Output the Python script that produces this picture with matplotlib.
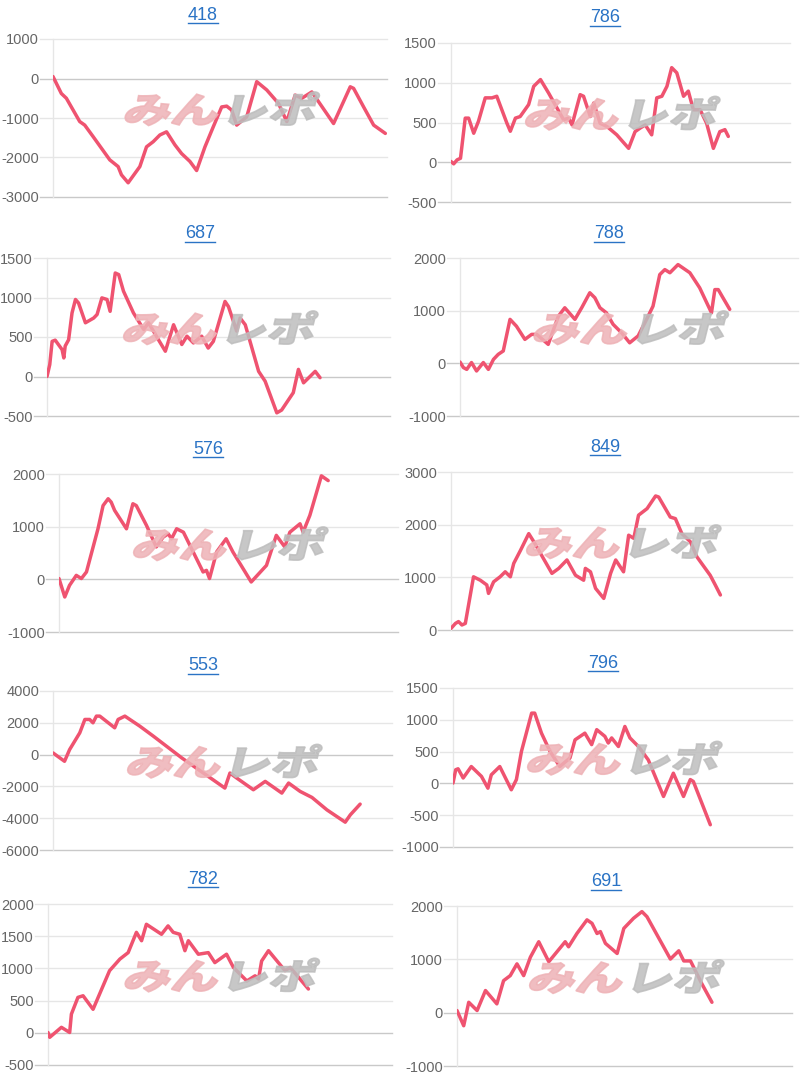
import matplotlib
matplotlib.use("Agg")
import matplotlib.pyplot as plt
from matplotlib.lines import Line2D
from matplotlib.patches import PathPatch
from matplotlib.textpath import TextPath
from matplotlib.font_manager import FontProperties
from matplotlib.transforms import Affine2D

plt.rcParams['font.family'] = ['Liberation Sans', 'DejaVu Sans']
plt.rcParams['axes.unicode_minus'] = False

# machine numbers (panel titles)
titles = ["418", "786", "687", "788", "576", "849", "553", "796", "782", "691"]

# x = position along the axis (0-100), y = balance
x418 = [0, 2.5, 4, 8, 9.5, 12, 17, 19.5, 20.5, 22.5, 26, 28, 30, 32, 34, 36.5, 38.5, 41, 43, 45.5,
        48, 50.5, 52, 53.5, 55, 58, 61, 64, 67.5, 70, 72.5, 74.5, 77.5, 84, 89, 90, 93, 96, 99.5]
y418 = [50, -380, -500, -1090, -1180, -1470, -2060, -2230, -2440, -2640, -2230, -1730, -1600, -1430,
        -1350, -1680, -1900, -2100, -2330, -1730, -1220, -720, -700, -800, -1180, -970, -80, -290,
        -630, -1090, -420, -500, -340, -1140, -210, -250, -720, -1180, -1390]

x786 = [0, 0.8, 1.8, 2.8, 4.2, 5.2, 6.7, 8.1, 10.1, 12.1, 13.5, 16.5, 17.5, 19, 20.4, 22.9, 24.4,
        26.4, 28.8, 33.2, 34.7, 35.7, 38.1, 39.1, 41.1, 42.1, 44, 46, 48.9, 52.4, 54.3, 55.8, 57.3,
        59.2, 60.7, 62.2, 63.7, 65.1, 66.6, 68.6, 70, 71.5, 73.5, 75.4, 77.4, 79.3, 80.8, 81.8]
y786 = [10, -20, 30, 50, 555, 555, 365, 515, 810, 810, 830, 490, 390, 555, 575, 725, 955, 1040, 870,
        535, 555, 470, 850, 830, 575, 745, 490, 450, 345, 175, 385, 430, 470, 345, 810, 830, 955,
        1190, 1125, 830, 895, 660, 660, 490, 175, 385, 410, 325]

x687 = [0, 0.8, 1.5, 2.4, 4.4, 4.9, 5.3, 6.3, 7.3, 8.3, 9.2, 11.2, 13.6, 14.6, 16, 17.5, 18.4, 19.9,
        20.9, 22.3, 25.2, 28.2, 29.6, 32.5, 34.5, 36.9, 39.3, 40.8, 42.7, 45.1, 47, 48.5, 51.9,
        52.9, 55.3, 56.3, 57.8, 61.7, 63.6, 67, 68.4, 71.8, 73.3, 74.8, 78.2, 79.6]
y687 = [0, 150, 445, 460, 340, 235, 385, 465, 805, 975, 930, 680, 740, 785, 995, 975, 825, 1310,
        1290, 1080, 805, 595, 680, 465, 320, 655, 405, 510, 425, 510, 360, 445, 950, 885, 575, 740,
        655, 65, -60, -460, -425, -205, 90, -80, 65, -15]

x788 = [0, 1, 2, 3.4, 4.9, 6.9, 8.4, 9.9, 11.3, 12.8, 14.8, 16.7, 19.2, 21.2, 22.7, 26.1, 29.1, 31,
        34, 36, 38.4, 39.9, 41.4, 43.3, 45.3, 47.8, 50.2, 52.7, 55.2, 57.1, 59.1, 60.6, 62.1, 64.5,
        68, 70.9, 74.4, 75.4, 76.4, 77.8, 79.8]
y788 = [25, -80, -115, 15, -145, 15, -115, 75, 170, 235, 835, 705, 455, 550, 550, 360, 895, 1055,
        835, 1055, 1340, 1245, 1055, 960, 740, 580, 390, 520, 835, 1085, 1685, 1780, 1720, 1875,
        1720, 1435, 960, 1400, 1400, 1245, 1025]

x576 = [0, 1.7, 3.1, 5.1, 6.6, 8.1, 11.5, 13, 14.5, 15.4, 16.4, 19.9, 21.8, 22.8, 25.8, 28.7, 30.7,
        32.2, 33.2, 34.7, 36.7, 42.5, 43.5, 44.4, 46.5, 49.3, 51.3, 56.7, 61.2, 64.1, 66.6, 68.1,
        71.1, 72, 74, 77.4, 79.4]
y576 = [15, -335, -115, 75, 15, 140, 960, 1400, 1530, 1465, 1310, 960, 1435, 1400, 1025, 615, 800,
        865, 770, 960, 895, 140, 170, 15, 520, 770, 520, -50, 265, 835, 615, 895, 1055, 895, 1215,
        1965, 1875]

x849 = [0, 1.3, 2.2, 3.2, 4.2, 6.6, 8.6, 10.5, 11, 12.5, 14.4, 15.9, 17.4, 18.4, 20.4, 22.8, 24.3,
        29.6, 31.6, 34, 36.5, 38.9, 39.4, 40.9, 42.4, 44.8, 46.8, 48.3, 50.6, 52.1, 53.6, 55, 57.5,
        60, 60.9, 64.3, 65.8, 67.7, 70.2, 72.1, 76, 77.5, 79]
y849 = [30, 125, 160, 95, 125, 1010, 945, 855, 695, 915, 1010, 1105, 1010, 1265, 1515, 1830, 1675,
        1075, 1170, 1330, 1040, 945, 1170, 1105, 790, 600, 1075, 1330, 1105, 1800, 1740, 2180,
        2305, 2545, 2525, 2145, 2115, 1830, 1675, 1390, 1040, 855, 665]

x553 = [0, 3.4, 4.9, 7.9, 9.4, 10.8, 11.8, 12.8, 13.8, 18.2, 19.2, 21.2, 25.6, 29.6, 38, 49.3, 50.7,
        52.2, 54.2, 59.1, 62.6, 67.5, 69.5, 72.9, 76.4, 80.8, 86.2, 87.7, 90.6]
y553 = [105, -420, 315, 1370, 2210, 2210, 2000, 2420, 2420, 1685, 2210, 2420, 1790, 1160, -210,
        -1895, -2105, -1160, -1475, -2210, -1685, -2420, -1790, -2315, -2695, -3475, -4250, -3790,
        -3115]

x796 = [0, 0.8, 1.5, 3, 5.4, 8.4, 10.3, 11.3, 13.8, 17.2, 18.7, 20.2, 23.2, 24.1, 26.1, 28.6, 31.5,
        34.5, 36, 38.9, 40.9, 42.4, 44.8, 45.8, 46.8, 48.8, 50.7, 52.2, 54.7, 57.6, 62.1, 65, 68,
        70, 70.9, 75.9]
y796 = [5, 215, 230, 85, 265, 110, -75, 135, 265, -100, 60, 505, 1105, 1105, 790, 505, 265, 400, 685,
        790, 610, 845, 740, 635, 715, 580, 895, 715, 580, 370, -205, 160, -205, 60, 30, -650]

x782 = [0, 0.5, 3.9, 6.3, 6.8, 8.7, 10.2, 13.1, 17.9, 20.9, 23.3, 25.7, 27.2, 28.6, 33, 34.9, 36.4,
        38.3, 39.8, 40.8, 43.7, 46.6, 48.5, 51.9, 53.9, 57.8, 60.2, 61.2, 62.1, 64.1, 68.9, 70.4,
        75.7]
y782 = [5, -70, 85, 5, 290, 550, 575, 365, 965, 1145, 1245, 1560, 1430, 1685, 1530, 1660, 1560, 1530,
        1275, 1430, 1220, 1245, 1090, 1220, 1015, 805, 885, 835, 1115, 1275, 965, 1015, 680]

x691 = [0, 2, 3.5, 6, 8.5, 11.9, 13.9, 15.9, 17.9, 19.9, 21.9, 24.4, 27.4, 32.3, 33.3, 35.8, 38.8,
        40.3, 41.8, 42.8, 44.3, 47.8, 49.8, 52.7, 55.2, 56.7, 63.7, 66.2, 67.7, 69.7, 73.1, 76.1]
y691 = [40, -245, 195, 40, 415, 165, 600, 695, 915, 695, 1040, 1330, 955, 1330, 1235, 1485, 1740,
        1675, 1485, 1520, 1300, 1110, 1580, 1770, 1895, 1800, 1005, 1160, 970, 970, 540, 195]

series_x = [x418, x786, x687, x788, x576, x849, x553, x796, x782, x691]
series_y = [y418, y786, y687, y788, y576, y849, y553, y796, y782, y691]

# y-axis tick values for each panel
ticks = [
    [-3000, -2000, -1000, 0, 1000],
    [-500, 0, 500, 1000, 1500],
    [-500, 0, 500, 1000, 1500],
    [-1000, 0, 1000, 2000],
    [-1000, 0, 1000, 2000],
    [0, 1000, 2000, 3000],
    [-6000, -4000, -2000, 0, 2000, 4000],
    [-1000, -500, 0, 500, 1000, 1500],
    [-500, 0, 500, 1000, 1500, 2000],
    [-1000, 0, 1000, 2000],
]

# panel boxes in pixels: left, right, top, bottom
boxes = [(53, 387, 39, 197), (451, 790, 43, 202),
         (47, 390, 258, 416), (460, 798, 258, 416),
         (59, 398, 474, 632), (451, 792, 472, 630),
         (53, 392, 691, 850), (453, 792, 688, 847),
         (48, 392, 904, 1065), (457, 792, 906, 1066)]
title_pos = [(203, 15), (605, 18), (200, 234), (609, 234), (208, 449),
             (605, 448), (203, 666), (603, 663), (203, 879), (606, 882)]

W, H = 800, 1080
fig = plt.figure(figsize=(W / 100, H / 100), dpi=100)
line_col = '#ef5370'
grid_col = '#e6e6e6'
zero_col = '#c9c9c9'

wm_font = FontProperties(family='Noto Sans CJK JP', weight='heavy')
wm_parts = [("みん", '#eeb2b6'), ("レポ", '#bdbdbd')]

axes = []
for i in range(10):
    l, r, t, b = boxes[i]
    ax = fig.add_axes([l / W, 1 - b / H, (r - l) / W, (b - t) / H])
    axes.append(ax)
    ax.set_xlim(0, 100)
    ax.set_ylim(ticks[i][0], ticks[i][-1])
    for s in ['top', 'right', 'bottom']:
        ax.spines[s].set_visible(False)
    ax.spines['left'].set_color(grid_col)
    ax.spines['left'].set_linewidth(1)
    ax.set_xticks([])
    ax.set_yticks(ticks[i])
    ax.tick_params(axis='y', length=0, pad=10, labelsize=10.5, labelcolor='#666666')
    for v in ticks[i]:
        c = zero_col if (v == 0 or v == ticks[i][0]) else grid_col
        ax.axhline(v, xmin=-13 / (r - l), xmax=1, color=c, lw=1, clip_on=False, zorder=0.5)
    ax.plot(series_x[i], series_y[i], color=line_col, lw=2.5, zorder=3,
            solid_joinstyle='round', solid_capstyle='round')

fig.canvas.draw()
renderer = fig.canvas.get_renderer()

# watermark and titles
for i, ax in enumerate(axes):
    cx, cy = ax.transAxes.transform((0.5, 0.57))
    size = 44
    px = cx - 98
    for txt, col in wm_parts:
        tp = TextPath((0, 0), txt, prop=wm_font, size=size)
        tr = Affine2D().scale(1.08, 0.8).skew_deg(14, 0).translate(px, cy - size * 0.36)
        patch = PathPatch(tr.transform_path(tp), facecolor=col, edgecolor=col, lw=1.2,
                          transform=None, zorder=1, alpha=0.85)
        fig.add_artist(patch)
        px += tp.get_extents().width * 1.08 + 6

    tx, ty = title_pos[i]
    t = fig.text(tx / W, 1 - ty / H, titles[i], ha='center', va='center',
                 fontsize=13, color='#2a73c5')
    bb = t.get_window_extent(renderer)
    uy = (bb.y0 + 1) / H
    fig.add_artist(Line2D([bb.x0 / W, bb.x1 / W], [uy, uy], color='#2a73c5', lw=1))

fig.savefig('out.png', dpi=100)
